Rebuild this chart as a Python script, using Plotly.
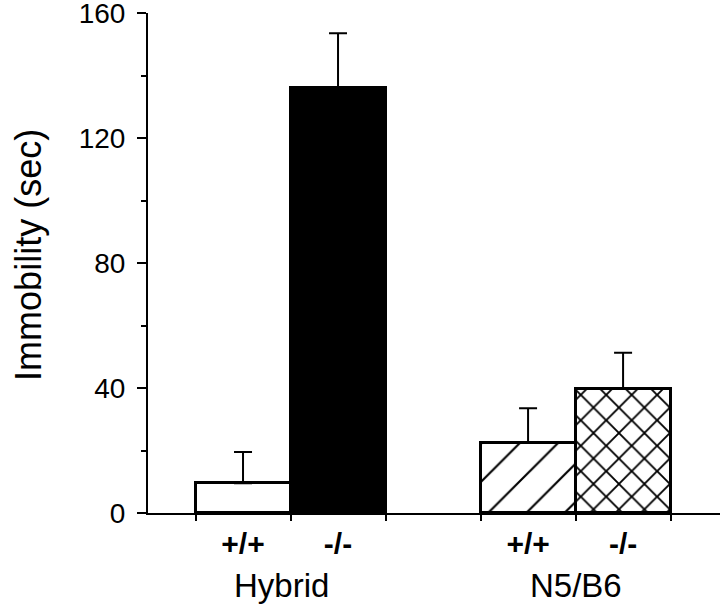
import plotly.graph_objects as go

# ---- data ----
groups = ["Hybrid", "N5/B6"]
genotypes = ["+/+", "-/-"]
values = [9.5, 136.0, 22.5, 39.7]        # Hybrid +/+, Hybrid -/-, N5/B6 +/+, N5/B6 -/-
errors = [10.0, 17.5, 11.0, 11.6]
y_ticks = [0, 40, 80, 120, 160]
y_title = "Immobility (sec)"

# ---- layout helpers ----
n_g = len(genotypes)
xpos = [g * (n_g + 1) + k for g in range(len(groups)) for k in range(n_g)]
labels = [genotypes[k] for g in range(len(groups)) for k in range(n_g)]
edges = sorted(set([x - 0.5 for x in xpos] + [x + 0.5 for x in xpos]))
group_centers = [g * (n_g + 1) + (n_g - 1) / 2 for g in range(len(groups))]

styles = [
    dict(color="white", pattern=None),
    dict(color="black", pattern=None),
    dict(color="white", pattern=dict(shape="/", fgcolor="black", bgcolor="white",
                                     fgopacity=1, size=27, solidity=0.08,
                                     fillmode="overlay")),
    dict(color="white", pattern=dict(shape="x", fgcolor="black", bgcolor="white",
                                     fgopacity=1, size=18, solidity=0.2,
                                     fillmode="overlay")),
]

FONT = "Arial, Liberation Sans, Helvetica, sans-serif"

fig = go.Figure()
for xi, v, e, st in zip(xpos, values, errors, styles):
    marker = dict(color=st["color"], line=dict(color="black", width=3))
    if st["pattern"] is not None:
        marker["pattern"] = st["pattern"]
    fig.add_trace(go.Bar(
        x=[xi], y=[v], width=1.0, marker=marker,
        error_y=dict(type="data", symmetric=False, array=[e], arrayminus=[0],
                     color="black", thickness=2, width=9),
        showlegend=False,
    ))

fig.update_layout(
    width=720, height=607,
    margin=dict(l=148, r=0, t=13, b=94, autoexpand=False),
    paper_bgcolor="white", plot_bgcolor="white",
    font=dict(family=FONT, color="black"),
    barmode="overlay", bargap=0,
    xaxis=dict(
        range=[-1.0, 5.02], showgrid=False, zeroline=False, automargin=False,
        showline=True, linecolor="black", linewidth=2,
        tickmode="array", tickvals=xpos, ticktext=labels,
        ticks="", ticklen=0,
        tickfont=dict(family=FONT, size=30, color="black", weight="bold"),
        ticklabelstandoff=3,
        minor=dict(tickmode="array", tickvals=edges, ticks="outside",
                   ticklen=6, tickwidth=2, tickcolor="black"),
    ),
    yaxis=dict(
        range=[0, 160], showgrid=False, zeroline=False, automargin=False,
        showline=True, linecolor="black", linewidth=2,
        tickmode="array", tickvals=y_ticks,
        ticks="outside", ticklen=9, tickwidth=2, tickcolor="black",
        tickfont=dict(family=FONT, size=28, color="black"),
        ticklabelstandoff=6, ticklabeloverflow="allow",
        minor=dict(tick0=0, dtick=20, ticks="outside", ticklen=5,
                   tickwidth=2, tickcolor="black"),
    ),
)

annotations = [
    dict(text=y_title, x=-0.21, y=0.516, xref="paper", yref="paper",
         textangle=-90, showarrow=False, xanchor="center", yanchor="middle",
         font=dict(family=FONT, size=36, color="black")),
]
for i, (gname, gc) in enumerate(zip(groups, group_centers)):
    annotations.append(dict(text=gname, x=gc, y=-0.145, xref="x", yref="paper",
                            xshift=-9 if i == 0 else 0,
                            showarrow=False, xanchor="center", yanchor="middle",
                            font=dict(family=FONT, size=33, color="black")))
fig.update_layout(annotations=annotations)

fig.write_html("out.html", config={"displayModeBar": False},
               post_script="document.body.style.margin='0';document.body.style.overflow='hidden';")
